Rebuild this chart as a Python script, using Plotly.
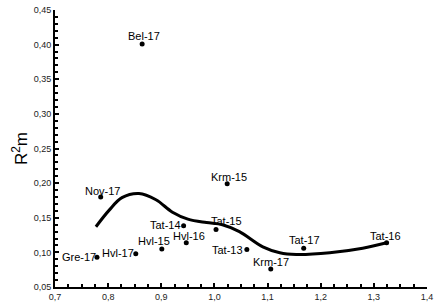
import plotly.graph_objects as go

# Data
labels = ["Bel-17", "Nov-17", "Gre-17", "Hvl-17", "Hvl-15", "Hvl-16", "Tat-14",
          "Tat-15", "Krm-15", "Tat-13", "Krm-17", "Tat-17", "Tat-16"]
x_vals = [0.864, 0.786, 0.779, 0.852, 0.901, 0.947, 0.942,
          1.003, 1.024, 1.061, 1.106, 1.168, 1.324]
y_vals = [0.401, 0.180, 0.093, 0.098, 0.105, 0.114, 0.1385,
          0.133, 0.199, 0.104, 0.076, 0.106, 0.114]

curve_x = [0.777, 0.802, 0.826, 0.858, 0.890, 0.921, 0.950, 0.985, 1.015,
           1.047, 1.091, 1.123, 1.154, 1.217, 1.279, 1.324]
curve_y = [0.137, 0.161, 0.179, 0.185, 0.176, 0.158, 0.148, 0.143, 0.140,
           0.130, 0.108, 0.0995, 0.097, 0.0995, 0.106, 0.114]

x_ticks = [0.7, 0.8, 0.9, 1.0, 1.1, 1.2, 1.3, 1.4]
y_ticks = [0.05, 0.10, 0.15, 0.20, 0.25, 0.30, 0.35, 0.40, 0.45]

# Label offsets in pixels (style)
label_dx = [2, 2, -18, -18, -8, 3, -18, 10, 2, -19, 0, 1, -1]
label_dy = [8, 6, 0, 1, 8, 7, 1, 9, 7, 0, 7, 8, 7]

fig = go.Figure()
fig.add_trace(go.Scatter(
    x=curve_x, y=curve_y, mode="lines",
    line=dict(color="black", width=3, shape="spline", smoothing=1.0),
    hoverinfo="skip", showlegend=False))
fig.add_trace(go.Scatter(
    x=x_vals, y=y_vals, mode="markers",
    marker=dict(color="black", size=5),
    showlegend=False))

for lab, xv, yv, dx, dy in zip(labels, x_vals, y_vals, label_dx, label_dy):
    fig.add_annotation(x=xv, y=yv, text=lab, showarrow=False,
                       xanchor="center", yanchor="middle",
                       xshift=dx, yshift=dy,
                       font=dict(family="Liberation Sans, Arial", size=11,
                                 color="black"))

axis_font = dict(family="Liberation Sans, Arial", size=9, color="#222")
fig.update_layout(
    width=440, height=305,
    margin=dict(l=55, r=13, t=10, b=18),
    paper_bgcolor="white", plot_bgcolor="white",
    separators=",.",
    xaxis=dict(range=[0.7, 1.4], tickvals=x_ticks, tickformat=".1f",
               showgrid=False, zeroline=False, showline=True, linecolor="black",
               linewidth=1.5, ticks="inside", ticklen=4, tickcolor="black",
               tickwidth=1.5, tickfont=axis_font, automargin=False,
               minor=dict(dtick=0.025, ticks="inside", ticklen=3,
                          tickcolor="black", tickwidth=1.5)),
    yaxis=dict(range=[0.05, 0.45], tickvals=y_ticks, tickformat=".2f",
               showgrid=False, zeroline=False, showline=True, linecolor="black",
               linewidth=2, ticks="inside", ticklen=4, tickcolor="black",
               tickwidth=1.5, tickfont=axis_font, automargin=False,
               minor=dict(dtick=0.01, ticks="inside", ticklen=3,
                          tickcolor="black", tickwidth=1.5),
               title=dict(text="R<sup>2</sup>m", standoff=2,
                          font=dict(family="Liberation Sans, Arial", size=17,
                                    color="black"))),
)

fig.write_html("out.html", config={"displayModeBar": False},
               post_script="document.body.style.margin='0px';document.body.style.padding='0px';")
